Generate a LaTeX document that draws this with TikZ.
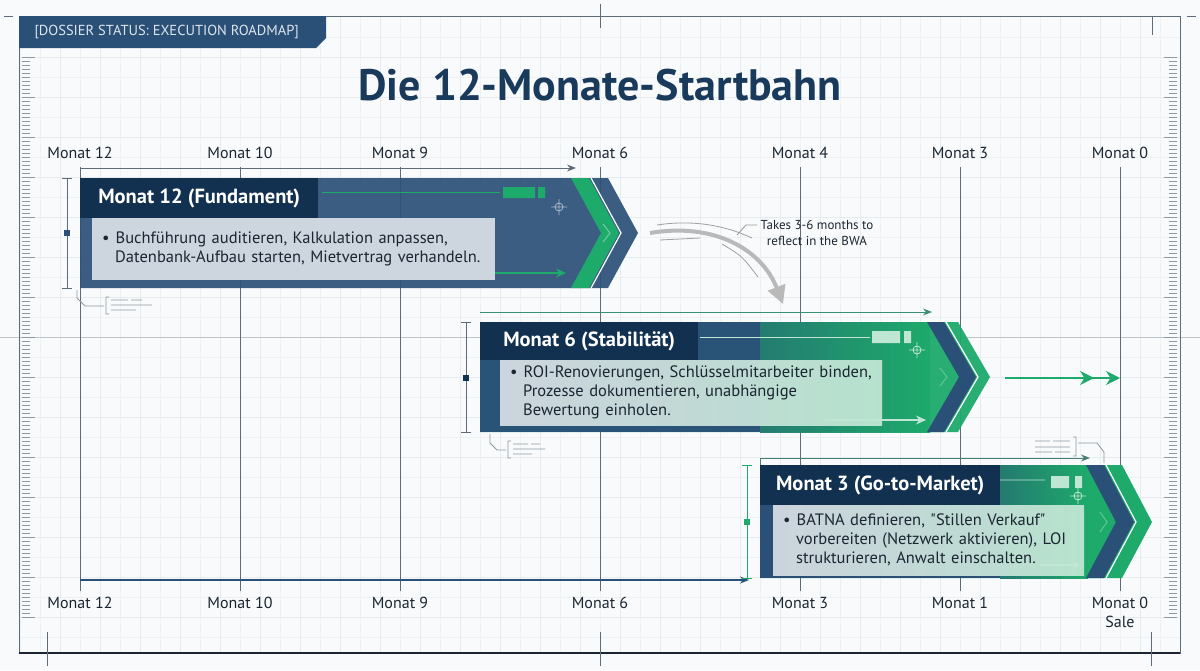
\documentclass[tikz,border=0pt]{standalone}
\usepackage{fontspec}
\setmainfont{PT Sans}
\usetikzlibrary{arrows.meta,positioning}

\definecolor{navy}{HTML}{12304F}
\definecolor{barblue}{HTML}{2B5078}
\definecolor{mintgreen}{HTML}{1DAA6B}
\definecolor{lightmint}{HTML}{BFE6D3}
\definecolor{tealdark}{HTML}{247A70}
\definecolor{boxgray}{HTML}{D5DCE3}
\definecolor{gridgray}{HTML}{E6EBEE}
\definecolor{inkgray}{HTML}{5E6C79}
\definecolor{paper}{HTML}{F8FAFB}
\definecolor{textdark}{HTML}{1B2632}
\definecolor{titleblue}{HTML}{1A3A5C}
\definecolor{headtext}{HTML}{DDE5EC}

\begin{document}
\begin{tikzpicture}[
    x=1pt, y=-1pt,
    monat/.style={font=\fontsize{16}{18}\selectfont, text=textdark},
    bartitle/.style={fill=navy, text=white, anchor=north west, inner sep=0pt,
        font=\bfseries\fontsize{20.5}{22}\selectfont},
    barbody/.style={anchor=north west, inner xsep=10pt, inner ysep=0pt, align=left,
        text=textdark, text opacity=1, font=\fontsize{16.5}{19}\selectfont},
    colline/.style={draw=inkgray, line width=0.9pt},
    bracket/.style={line width=1pt},
    memo/.style={draw=inkgray!70, line width=0.8pt},
    >={Stealth[length=9pt, width=7pt]}
]
    \useasboundingbox (0,0) rectangle (1200,670);
    \fill[paper] (0,0) rectangle (1200,670);

    % Raster
    \foreach \x in {20,40,...,1180} \draw[gridgray!70, line width=0.4pt] (\x,17) -- (\x,653);
    \foreach \y in {37,57,...,637} \draw[gridgray!70, line width=0.4pt] (19,\y) -- (1180,\y);
    \foreach \x in {60,100,...,1140} \draw[gridgray, line width=0.8pt] (\x,17) -- (\x,653);
    \foreach \y in {57,97,...,617} \draw[gridgray, line width=0.8pt] (19,\y) -- (1180,\y);
    \draw[gridgray!70!inkgray, line width=0.6pt] (0,337) -- (1200,337);

    % Lineale links und rechts
    \foreach \i in {0,...,140} {
        \pgfmathsetmacro\ty{57+4*\i}
        \pgfmathsetmacro\tl{mod(\i,10)==0 ? 13 : 8}
        \draw[inkgray!70, line width=0.8pt] (22,\ty) -- ++(\tl,0);
        \draw[inkgray!70, line width=0.8pt] (1177,\ty) -- ++(-\tl,0);
    }

    % Rahmen und Passermarken
    \draw[inkgray, line width=1pt] (19,16) rectangle (1180,653);
    \draw[textdark, line width=2pt] (19,653) -- (1180,653);
    \draw[inkgray, line width=1pt] (600,4) -- (600,28) (600,632) -- (600,666)
        (47,632) -- (47,666) (1151,632) -- (1151,666) (1152,17) -- (1152,35)
        (4,16) -- (13,16) (1187,16) -- (1196,16);

    % Reiter oben links
    \fill[barblue] (19,16) -- (326,16) -- (326,38) -- (316,48) -- (19,48) -- cycle;
    \node[font=\fontsize{14.5}{16}\selectfont, text=headtext, anchor=west] (tab) at (31,32)
        {[DOSSIER STATUS: EXECUTION ROADMAP]};

    % Titel
    \node[font=\bfseries\fontsize{44}{48}\selectfont, text=titleblue] (title) at (600,85)
        {Die 12-Monate-Startbahn};

    % Monatsachse oben und unten
    \foreach \x/\m in {80/12,240/10,400/9,600/6,800/4,960/3,1120/0}
        \node[monat] (mt\x) at (\x,153) {Monat \m};
    \foreach \x/\m in {80/12,240/10,400/9,600/6,800/3,960/1,1120/0}
        \node[monat] (mb\x) at (\x,603) {Monat \m};
    \node[monat] (sale) at (1120,622) {Sale};
    \foreach \x in {80,240,400,600,800,960,1120}
        \draw[colline] ([yshift=-5pt]mt\x.south) -- ([yshift=3pt]mb\x.north);

    % Zeitpfeile
    \coordinate (p12a) at (80,168);  \coordinate (p12b) at (576,168);
    \coordinate (p6a) at (480,312);  \coordinate (p6b) at (932,312);
    \coordinate (p3a) at (760,458);  \coordinate (p3b) at (1090,458);
    \coordinate (p0a) at (80,580);   \coordinate (p0b) at (749,580);
    \draw[inkgray, line width=1pt, ->] (p12a) -- (p12b);
    \draw[mintgreen!55!inkgray, line width=1pt, ->] (p6a) -- (p6b);
    \draw[inkgray!70!mintgreen, line width=1pt, ->] (p3a) -- (p3b);
    \draw[barblue, line width=1.2pt, ->] (p0a) -- (p0b);
    \draw[inkgray!70!mintgreen, line width=1pt] (760,458) -- (760,465);

    % Monat 12 (Fundament)
    \fill[barblue, fill opacity=0.92] (80,178) -- (608,178) -- (638,233) -- (608,288) -- (80,288) -- cycle;
    \fill[mintgreen] (571,178) -- (589,178) -- (619,233) -- (589,288) -- (571,288) -- (601,233) -- cycle;
    \draw[white, line width=1.2pt] (591,178) -- (621,233) -- (591,288);
    \draw[mintgreen!60!white, line width=1pt] (603,224) -- (610,233) -- (603,242);
    \draw[mintgreen, line width=0.8pt] (322,192) -- (500,192);
    \fill[mintgreen] (503,187) rectangle (535,198) (538,187) rectangle (545,198);
    \draw[white!60!barblue, line width=0.8pt] (559,207) circle (4pt) (551,207) -- (567,207) (559,199) -- (559,215);
    \coordinate (g12a) at (470,273); \coordinate (g12b) at (566,273);
    \draw[mintgreen, line width=1.2pt, -{Stealth[length=10pt, width=9pt]}] (g12a) -- (g12b);
    \node[bartitle, minimum width=238pt, minimum height=40pt] (t12) at (80,178) {Monat 12 (Fundament)};
    \node[barbody, fill=boxgray, fill opacity=0.95, text width=383pt, minimum height=62pt] (d12) at (92,218)
        {\textbullet\hspace{6pt}Buchführung auditieren, Kalkulation anpassen,\\
         \hspace*{13pt}Datenbank-Aufbau starten, Mietvertrag verhandeln.};
    \draw[inkgray, bracket] (62,178) -- (72,178) (67,178) -- (67,288) (62,288) -- (72,288);
    \fill[barblue] (64,230) rectangle (70,236);
    \draw[memo] (77,290) -- (77,298) -- (85,306) -- (104,306)
        (109,297) -- (106,297) -- (106,314) -- (109,314)
        (111,300) -- (128,300) (131,300) -- (142,300) (111,305) -- (152,305) (111,310) -- (136,310);

    % Monat 6 (Stabilitaet)
    \fill[mintgreen, fill opacity=0.95] (480,322) -- (958,322) -- (990,377) -- (958,432) -- (480,432) -- cycle;
    \fill[barblue, fill opacity=0.95] (480,322) rectangle (760,432);
    \shade[left color=tealdark, right color=mintgreen, fill opacity=0.95] (760,322) rectangle (930,432);
    \fill[barblue] (927,322) -- (944,322) -- (976,377) -- (944,432) -- (927,432) -- (959,377) -- cycle;
    \draw[white, line width=1.2pt] (946,322) -- (978,377) -- (946,432);
    \draw[mintgreen!70!white, line width=1pt] (940,368) -- (947,377) -- (940,386);
    \draw[lightmint, line width=0.8pt] (700,337) -- (870,337);
    \fill[lightmint] (872,331) rectangle (900,343) (904,331) rectangle (911,343);
    \draw[lightmint, line width=0.8pt] (917,350) circle (4pt) (909,350) -- (925,350) (917,342) -- (917,358);
    \coordinate (g6a) at (825,420); \coordinate (g6b) at (926,420);
    \draw[lightmint, line width=1.2pt, -{Stealth[length=10pt, width=9pt]}] (g6a) -- (g6b);
    \node[bartitle, minimum width=218pt, minimum height=38pt] (t6) at (480,322) {Monat 6 (Stabilität)};
    \node[barbody, left color=boxgray, middle color=boxgray!70!lightmint, right color=lightmint,
        fill opacity=0.95, text width=362pt, minimum height=65pt] (d6) at (500,360)
        {\textbullet\hspace{6pt}ROI-Renovierungen, Schlüsselmitarbeiter binden,\\
         \hspace*{13pt}Prozesse dokumentieren, unabhängige\\
         \hspace*{13pt}Bewertung einholen.};
    \draw[inkgray, bracket] (461,322) -- (471,322) (466,322) -- (466,432) (461,432) -- (471,432);
    \fill[navy] (463,375) rectangle (469,381);
    \draw[memo] (490,434) -- (490,443) -- (497,450) -- (506,450)
        (511,441) -- (508,441) -- (508,458) -- (511,458)
        (513,444) -- (528,444) (531,444) -- (540,444) (513,449) -- (545,449) (513,454) -- (532,454);

    % Monat 3 (Go-to-Market)
    \fill[mintgreen] (760,465) -- (1122,465) -- (1152,522) -- (1122,578) -- (760,578) -- cycle;
    \fill[barblue] (760,465) rectangle (1000,578);
    \shade[left color=tealdark, right color=mintgreen] (1000,465) rectangle (1088,578);
    \fill[barblue] (1086,465) -- (1104,465) -- (1134,522) -- (1104,578) -- (1086,578) -- (1116,522) -- cycle;
    \draw[white, line width=1.2pt] (1106,465) -- (1136,522) -- (1106,578);
    \draw[mintgreen!70!white, line width=1pt] (1100,512) -- (1107,522) -- (1100,532);
    \fill[lightmint] (1051,476) rectangle (1069,488) (1075,476) rectangle (1082,488);
    \draw[lightmint, line width=0.8pt] (1000,480) -- (1045,480)
        (1078,496) circle (4pt) (1070,496) -- (1086,496) (1078,488) -- (1078,504);
    \coordinate (g3a) at (1040,565); \coordinate (g3b) at (1080,565);
    \draw[white!80!lightmint, line width=1.2pt, -{Stealth[length=8pt, width=8pt]}] (g3a) -- (g3b);
    \node[bartitle, minimum width=240pt, minimum height=40pt] (t3) at (760,465) {Monat 3 (Go-to-Market)};
    \node[barbody, left color=boxgray, middle color=boxgray!70!lightmint, right color=lightmint,
        fill opacity=0.95, text width=291pt, minimum height=70pt] (d3) at (773,505)
        {\textbullet\hspace{6pt}BATNA definieren, \textquotedbl Stillen Verkauf\textquotedbl\\
         \hspace*{13pt}vorbereiten (Netzwerk aktivieren), LOI\\
         \hspace*{13pt}strukturieren, Anwalt einschalten.};
    \draw[mintgreen, bracket] (742,465) -- (752,465) (747,465) -- (747,578) (742,578) -- (752,578);
    \fill[mintgreen] (744,519) rectangle (750,525);
    \draw[memo] (1035,441) -- (1050,441) (1053,441) -- (1070,441) (1035,447) -- (1070,447)
        (1035,452) -- (1052,452) (1055,452) -- (1070,452)
        (1073,437) -- (1076,437) -- (1076,456) -- (1073,456)
        (1078,443) -- (1097,443) -- (1104,452) -- (1104,463);

    % Verzoegerung bis zur BWA
    \coordinate (bwa-s) at (650,233); \coordinate (bwa-e) at (783,304);
    \draw[gray!55, line width=4pt, -{Triangle[length=18pt, width=18pt]}] (bwa-s) .. controls (715,222) and (762,250) .. (bwa-e);
    \draw[gray!75, line width=0.8pt] (657,225) .. controls (690,220) and (722,224) .. (752,238)
        (660,240) -- (700,238) (722,244) .. controls (742,256) .. (758,277);
    \node[font=\fontsize{13}{16}\selectfont, text=textdark, align=center] (bwa) at (817,233)
        {Takes 3-6 months to\\reflect in the BWA};
    \draw[gray!80, line width=0.8pt] (737,235) -- (746,225) -- ([yshift=8pt]bwa.west);

    % Ziel: Verkauf
    \coordinate (go) at (1005,378); \coordinate (sale-pt) at (1120,378);
    \draw[mintgreen, line width=2pt, -{Stealth[length=14pt, width=14pt, sep=12pt]Stealth[length=14pt, width=14pt]}] (go) -- (sale-pt);
\end{tikzpicture}
\end{document}
